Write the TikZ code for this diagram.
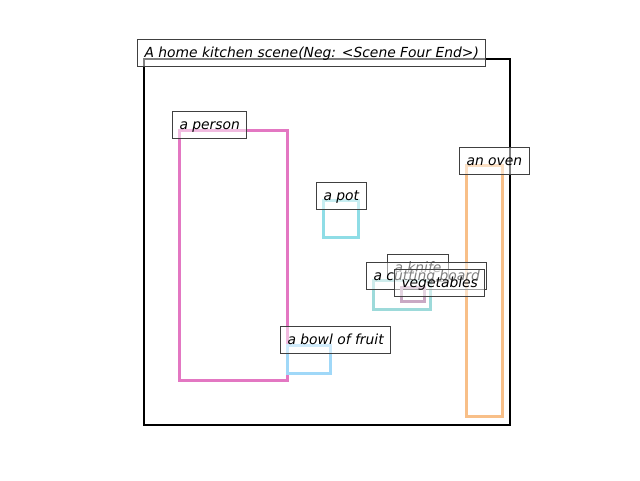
\documentclass[tikz,border=0pt]{standalone}
\usepackage{fontspec}
\setmainfont{DejaVu Sans}
\definecolor{personc}{HTML}{E377C2}
\definecolor{potc}{HTML}{8FDDE6}
\definecolor{ovenc}{HTML}{F8BF88}
\definecolor{boardc}{HTML}{9DDADA}
\definecolor{vegc}{HTML}{C9A9C4}
\definecolor{bowlc}{HTML}{A0D8F8}
\tikzset{
  lbl/.style={draw=black!75, line width=0.75pt, fill=white, fill opacity=0.5,
    text opacity=1, font=\fontsize{10.4}{12}\selectfont\itshape,
    text height=9pt, text depth=2.2pt,
    inner xsep=5.25pt, inner ysep=0pt, minimum height=20.25pt, anchor=south west},
  objbox/.style={line width=2.25pt},
  frame/.style={draw=black, line width=1.6pt}
}
\begin{document}
\begin{tikzpicture}[x=0.75pt,y=-0.75pt]
\useasboundingbox (0,0) rectangle (640,480);
\draw[frame] (144,59) rectangle (510,425);
\node[lbl] (title) at (137,67) {A home kitchen scene(Neg: <Scene Four End>)};
\draw[objbox, draw=personc] (179,130) rectangle (287,380);
\node[lbl] (person) at (172,139) {a person};
\draw[objbox, draw=potc] (323,200) rectangle (358,237);
\node[lbl] (pot) at (316,210) {a pot};
\draw[objbox, draw=ovenc] (466,165) rectangle (502,416);
\node[lbl] (oven) at (459,175) {an oven};
\node[lbl] (knife) at (387,282) {a knife};
\draw[objbox, draw=boardc] (373,280) rectangle (430,309);
\node[lbl] (board) at (366,290) {a cutting board};
\draw[objbox, draw=vegc] (401,287) rectangle (424,301);
\node[lbl] (veg) at (394,297) {vegetables};
\draw[objbox, draw=bowlc] (287,345) rectangle (330,373);
\node[lbl] (bowl) at (280,354) {a bowl of fruit};
\end{tikzpicture}
\end{document}
